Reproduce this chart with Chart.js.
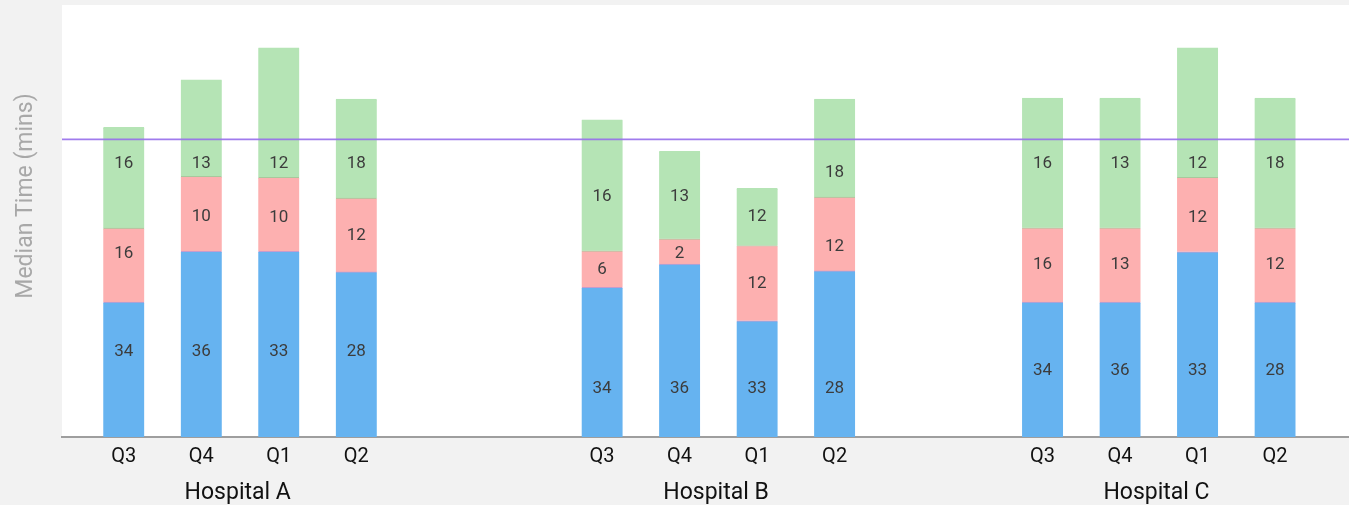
<!DOCTYPE html>
<html><head><meta charset="utf-8">
<script src="https://cdn.jsdelivr.net/npm/chart.js@4.4.1/dist/chart.umd.min.js"></script>
<style>html,body{margin:0;padding:0;background:#f2f2f2;} #wrap{width:1349px;height:505px;position:relative;}</style>
</head><body><div id="wrap"><canvas id="c"></canvas></div>
<script>
// ---- data ----
const hospitals = ['Hospital A', 'Hospital B', 'Hospital C'];
const quarters = ['Q3', 'Q4', 'Q1', 'Q2'];
// bar segment heights (minutes), order: A Q3..Q2, B Q3..Q2, C Q3..Q2
const blueValues  = [28.1, 38.7, 38.7, 34.4, 31.2, 36.0, 24.2, 34.6, 28.1, 28.1, 38.6, 28.1];
const pinkValues  = [15.4, 15.6, 15.4, 15.4,  7.6,  5.3, 15.7, 15.4, 15.5, 15.5, 15.5, 15.5];
const greenValues = [21.0, 20.1, 27.0, 20.6, 27.3, 18.2, 11.9, 20.4, 27.0, 27.0, 27.0, 27.0];
// printed value labels
const blueLabels  = [34, 36, 33, 28, 34, 36, 33, 28, 34, 36, 33, 28];
const pinkLabels  = [16, 10, 10, 12,  6,  2, 12, 12, 16, 13, 12, 12];
const greenLabels = [16, 13, 12, 18, 16, 13, 12, 18, 16, 13, 12, 18];
// where each printed label sits, in minutes on the y scale
const blueLabelAt  = [17.8, 17.8, 17.8, 17.8, 10.0, 10.0, 10.0, 10.0, 13.8, 13.8, 13.8, 13.8];
const pinkLabelAt  = [38.1, 45.8, 45.6, 41.9, 34.9, 38.2, 32.0, 39.6, 35.8, 35.8, 45.6, 35.8];
const greenLabelAt = [57.0, 57.0, 57.0, 57.0, 50.1, 50.1, 45.8, 55.1, 57.0, 57.0, 57.0, 57.0];
const targetValue = 62;
const yTitle = 'Median Time (mins)';

// ---- layout of the x axis (slot units) ----
const groupOffset = [0, 6.172, 11.855];
const xMin = -0.797, xMax = 15.809;
const barX = [];
hospitals.forEach((h, g) => quarters.forEach((q, i) => barX.push(groupOffset[g] + i)));
const groupX = groupOffset.map(o => o + 1.47);

const decor = {
  id: 'decor',
  beforeDraw(chart) {
    const { ctx, chartArea: a } = chart;
    ctx.save();
    ctx.fillStyle = '#ffffff';
    ctx.fillRect(a.left, a.top, a.right - a.left, a.bottom - a.top);
    ctx.restore();
  },
  afterDatasetsDraw(chart) {
    const { ctx, chartArea: a, scales: { y } } = chart;
    ctx.save();
    const ty = y.getPixelForValue(targetValue);
    ctx.strokeStyle = 'rgba(150,110,235,0.9)';
    ctx.lineWidth = 1.6;
    ctx.beginPath(); ctx.moveTo(a.left, ty); ctx.lineTo(a.right, ty); ctx.stroke();

    ctx.font = '17px Roboto';
    ctx.fillStyle = '#3c3c3c';
    ctx.textAlign = 'center';
    ctx.textBaseline = 'middle';
    const sets = [[blueLabels, blueLabelAt], [pinkLabels, pinkLabelAt], [greenLabels, greenLabelAt]];
    sets.forEach(([labels, at], di) => {
      const meta = chart.getDatasetMeta(di);
      meta.data.forEach((bar, i) => {
        ctx.fillText(String(labels[i]), bar.x, y.getPixelForValue(at[i]));
      });
    });

    ctx.translate(26, 196);
    ctx.rotate(-Math.PI / 2);
    ctx.font = '23px Roboto';
    ctx.fillStyle = '#a8a8a8';
    ctx.fillText(yTitle, 0, 0);
    ctx.restore();
  }
};

const seg = (vals, bg, border) => ({
  data: barX.map((x, i) => ({ x, y: vals[i] })),
  backgroundColor: bg,
  borderColor: border,
  borderWidth: { top: 1, right: 0, bottom: 0, left: 0 },
  borderSkipped: false,
  barThickness: 41
});

new Chart(document.getElementById('c'), {
  type: 'bar',
  data: {
    datasets: [
      seg(blueValues, '#66b3f0', '#c59ccd'),
      seg(pinkValues, '#fdb0b0', '#a9c79c'),
      seg(greenValues, '#b5e4b5', '#b5e4b5')
    ]
  },
  options: {
    responsive: true,
    maintainAspectRatio: false,
    animation: false,
    layout: { padding: { top: 5, left: 0, right: 0, bottom: 0 } },
    plugins: { legend: { display: false }, tooltip: { enabled: false } },
    scales: {
      x: {
        type: 'linear', position: 'bottom', min: xMin, max: xMax, stacked: true, offset: false,
        grid: { display: false, drawTicks: false, offset: false },
        border: { display: true, color: '#9e9e9e', width: 2 },
        afterBuildTicks: s => { s.ticks = barX.map(v => ({ value: v })); },
        afterFit: s => { s.height = 41; },
        ticks: { autoSkip: false, maxRotation: 0, padding: 8, color: '#111111',
                 font: { family: 'Roboto', size: 20 }, callback: (v, i) => quarters[i % 4] }
      },
      x2: {
        type: 'linear', position: 'bottom', min: xMin, max: xMax, offset: false,
        grid: { display: false, drawTicks: false, offset: false },
        border: { display: false },
        afterBuildTicks: s => { s.ticks = groupX.map(v => ({ value: v })); },
        afterFit: s => { s.height = 27; },
        ticks: { autoSkip: false, maxRotation: 0, padding: 1, color: '#111111',
                 font: { family: 'Roboto', size: 23 }, callback: (v, i) => hospitals[i] }
      },
      y: {
        type: 'linear', min: 0, max: 90, stacked: true,
        grid: { display: false, drawTicks: false },
        border: { display: false },
        ticks: { display: false },
        afterFit: s => { s.width = 62; }
      }
    }
  },
  plugins: [decor]
});
</script>
</body></html>
